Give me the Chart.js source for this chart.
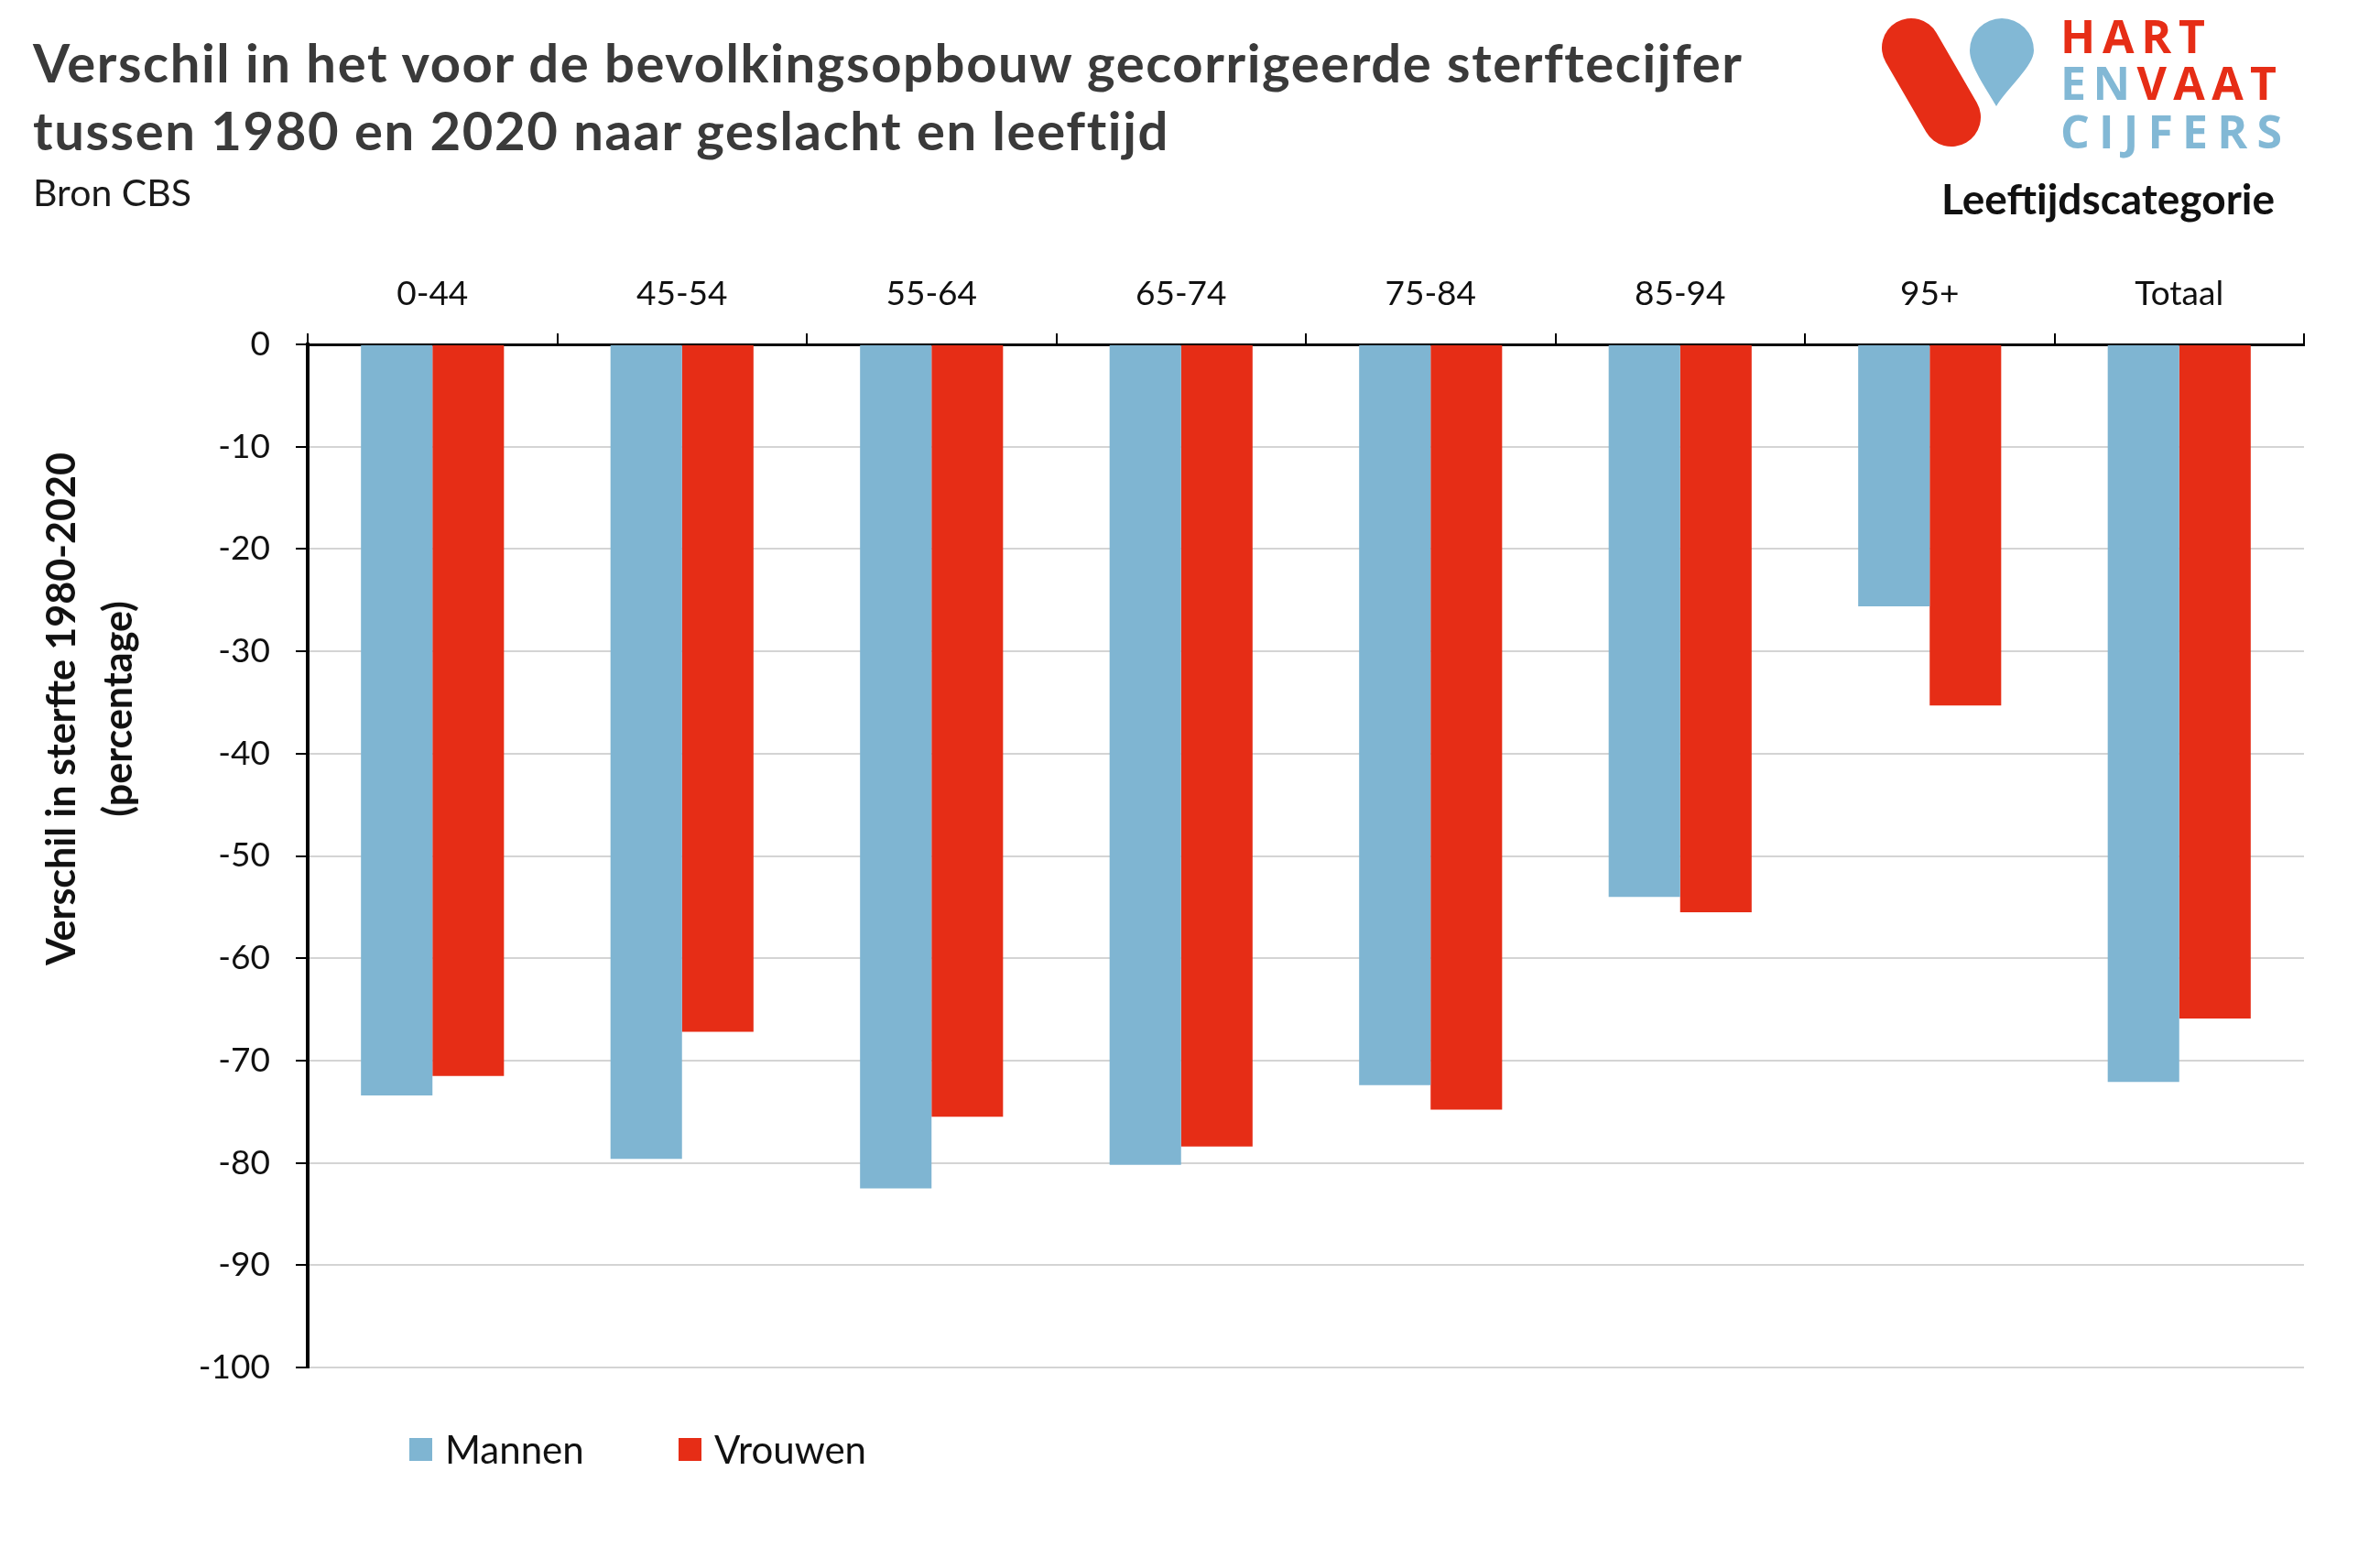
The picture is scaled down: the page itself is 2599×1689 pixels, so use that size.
<!DOCTYPE html>
<html>
<head>
<meta charset="utf-8">
<script src="https://cdn.jsdelivr.net/npm/chart.js@4.4.0/dist/chart.umd.min.js"></script>
<style>
  body { margin: 0; background: #fff; width: 2599px; height: 1689px; position: relative; overflow: hidden; font-family: Lato, sans-serif; }
  #chart { position: absolute; left: 0; top: 0; }
  .title { position: absolute; left: 36px; top: 31px; font-size: 58px; line-height: 74px; letter-spacing: 1.6px; font-weight: bold; color: #3a3a3a; white-space: nowrap; }
  .source { position: absolute; left: 36px; top: 185px; font-size: 41px; color: #1a1a1a; }
  .xtitle { position: absolute; left: 2302px; top: 194px; transform: translateX(-50%); font-size: 46px; line-height: 46px; font-weight: bold; color: #111; white-space: nowrap; }
  .ytitle { position: absolute; left: 97px; top: 774px; transform: translate(-50%, -50%) rotate(-90deg); font-size: 43px; line-height: 62px; font-weight: bold; color: #111; text-align: center; white-space: nowrap; }
  #legend { position: absolute; left: 447px; top: 1557px; display: flex; font-size: 42px; color: #111; }
  #legend .item { display: flex; align-items: center; }
  #legend .box { width: 25px; height: 25px; margin-right: 14px; }
  #logo { position: absolute; left: 0; top: 0; }
</style>
</head>
<body>
<canvas id="chart" width="2599" height="1689"></canvas>
<div class="title">Verschil in het voor de bevolkingsopbouw gecorrigeerde sterftecijfer<br>tussen 1980 en 2020 naar geslacht en leeftijd</div>
<div class="source">Bron CBS</div>
<div class="xtitle">Leeftijdscategorie</div>
<div class="ytitle">Verschil in sterfte 1980-2020<br>(percentage)</div>
<div id="legend"></div>
<svg id="logo" width="2599" height="220">
  <line x1="2087" y1="52" x2="2131" y2="128" stroke="#e62d16" stroke-width="64" stroke-linecap="round"/>
  <path d="M2180,116 C2168,95 2151,72 2151,55 A35,35 0 0 1 2221,55 C2221,72 2193,95 2180,116 Z" fill="#82b8d5"/>
  <g font-family="'Open Sans', sans-serif" font-weight="bold" font-size="50">
    <text x="2250" y="58" textLength="158" lengthAdjust="spacing" fill="#e62d16">HART</text>
    <text x="2250" y="109" textLength="236" lengthAdjust="spacing"><tspan fill="#82b8d5">EN</tspan><tspan fill="#e62d16">VAAT</tspan></text>
    <text x="2250" y="162" textLength="242" lengthAdjust="spacing" fill="#82b8d5">CIJFERS</text>
  </g>
</svg>
<script>
const categories = ["0-44", "45-54", "55-64", "65-74", "75-84", "85-94", "95+", "Totaal"];
const mannen = [-73.4, -79.6, -82.5, -80.2, -72.4, -54.0, -25.6, -72.1];
const vrouwen = [-71.5, -67.2, -75.5, -78.4, -74.8, -55.5, -35.3, -65.9];
const seriesNames = ["Mannen", "Vrouwen"];
const seriesColors = ["#7fb5d2", "#e62d16"];
const yMin = -100;
const yMax = 0;
const yStep = 10;

const tickFont = { family: "Lato, sans-serif", size: 37 };

const chart = new Chart(document.getElementById("chart").getContext("2d"), {
  type: "bar",
  data: {
    labels: categories,
    datasets: [
      { label: seriesNames[0], data: mannen, backgroundColor: seriesColors[0] },
      { label: seriesNames[1], data: vrouwen, backgroundColor: seriesColors[1] }
    ]
  },
  options: {
    responsive: false,
    animation: false,
    devicePixelRatio: 1,
    categoryPercentage: 0.573,
    barPercentage: 1.0,
    layout: { padding: { top: 256, bottom: 196, left: 0, right: 83 } },
    plugins: {
      legend: { display: false },
      tooltip: { enabled: false }
    },
    scales: {
      x: {
        position: "top",
        afterFit: (scale) => { scale.height = 120; },
        grid: { drawOnChartArea: false, tickColor: "#000", tickLength: 12, lineWidth: 2 },
        border: { color: "#000", width: 3 },
        ticks: { font: tickFont, color: "#111", padding: 21, maxRotation: 0 }
      },
      y: {
        min: yMin,
        max: yMax,
        afterFit: (scale) => { scale.width = 336; },
        grid: {
          color: (ctx) => ctx.tick && ctx.tick.value === 0 ? "rgba(0,0,0,0)" : "#d4d4d4",
          lineWidth: 2,
          tickColor: "#000",
          tickLength: 13
        },
        border: { color: "#000", width: 4 },
        ticks: { stepSize: yStep, font: tickFont, color: "#111", padding: 28 }
      }
    }
  }
});

// legend built from the datasets
const legend = document.getElementById("legend");
chart.data.datasets.forEach((ds, i) => {
  const item = document.createElement("div");
  item.className = "item";
  item.style.width = i === 0 ? "294px" : "auto";
  item.innerHTML = `<span class="box" style="background:${ds.backgroundColor}"></span><span>${ds.label}</span>`;
  legend.appendChild(item);
});
</script>
</body>
</html>
